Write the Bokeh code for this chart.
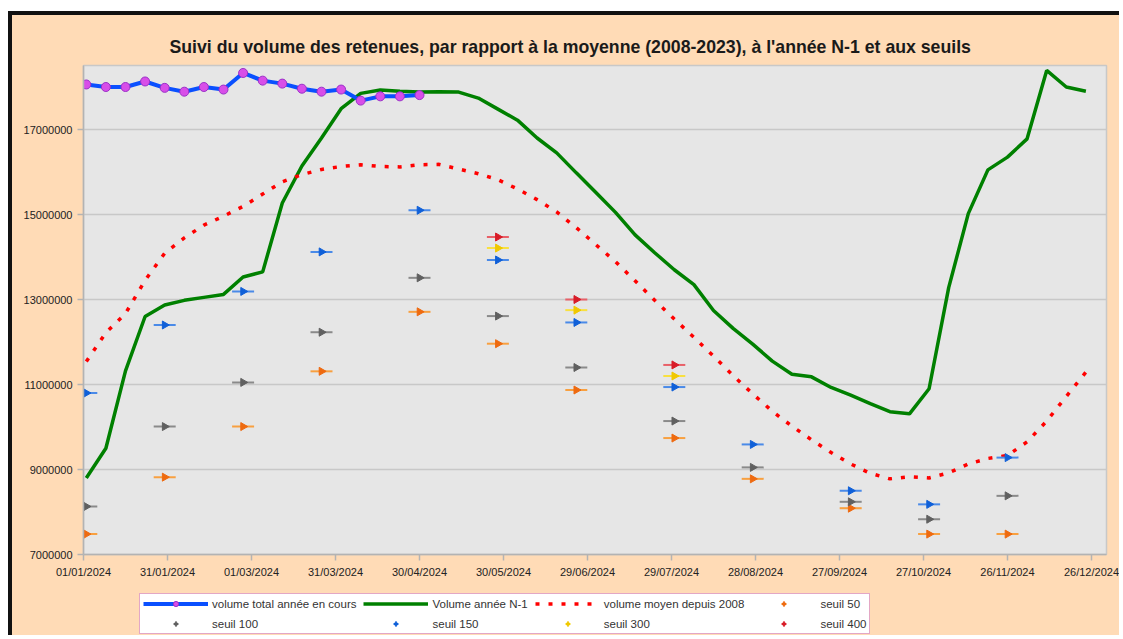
import numpy as np
import pandas as pd
from bokeh.plotting import figure
from bokeh.layouts import column
from bokeh.models import (Range1d, FixedTicker, DatetimeTickFormatter,
                          NumeralTickFormatter, Legend, LegendItem)
from bokeh.embed import file_html
from bokeh.resources import INLINE

# ---------------- data (values in millions of m3) ----------------
week_dates = pd.date_range("2024-01-02", periods=52, freq="7D")
current_dates = week_dates[:18]

current_year = [18.06, 18.00, 18.00, 18.13, 17.98, 17.89, 18.00, 17.94, 18.33,
                18.15, 18.08, 17.96, 17.89, 17.94, 17.68, 17.78, 17.78, 17.81]

previous_year = [8.80, 9.50, 11.32, 12.60, 12.87, 12.98, 13.05, 13.12, 13.53, 13.65,
                 15.27, 16.14, 16.80, 17.49, 17.85, 17.93, 17.90, 17.88, 17.89, 17.88,
                 17.74, 17.48, 17.22, 16.80, 16.45, 15.98, 15.52, 15.05, 14.52, 14.10,
                 13.70, 13.35, 12.74, 12.32, 11.95, 11.55, 11.24, 11.18, 10.93, 10.75,
                 10.55, 10.36, 10.31, 10.90, 13.28, 15.02, 16.05, 16.35, 16.78, 18.39,
                 18.00, 17.90]

mean_since_2008 = [11.54, 12.22, 12.67, 13.45, 14.09, 14.45, 14.75, 14.96, 15.19, 15.48,
                   15.77, 15.94, 16.06, 16.13, 16.17, 16.13, 16.12, 16.17, 16.18, 16.07,
                   15.96, 15.82, 15.60, 15.35, 15.06, 14.69, 14.29, 13.89, 13.44, 12.98,
                   12.54, 12.11, 11.67, 11.21, 10.78, 10.37, 10.02, 9.70, 9.40, 9.13,
                   8.91, 8.78, 8.83, 8.80, 8.92, 9.13, 9.26, 9.33, 9.65, 10.14,
                   10.72, 11.29]

seuil_dates = pd.to_datetime(["2024-01-02", "2024-01-30", "2024-02-27", "2024-03-26",
                              "2024-04-30", "2024-05-28", "2024-06-25", "2024-07-30",
                              "2024-08-27", "2024-10-01", "2024-10-29", "2024-11-26"])
nan = float("nan")
seuil_50 = [7.48, 8.82, 10.01, 11.31, 12.71, 11.96, 10.87, 9.74, 8.78, 8.09, 7.48, 7.48]
seuil_100 = [8.13, 10.01, 11.05, 12.23, 13.51, 12.61, 11.40, 10.14, 9.05, 8.24, 7.83, 8.38]
seuil_150 = [10.80, 12.40, 13.19, 14.12, 15.10, 13.93, 12.46, 10.94, 9.59, 8.50, 8.18, 9.28]
seuil_300 = [nan, nan, nan, nan, nan, 14.21, 12.75, 11.20, nan, nan, nan, nan]
seuil_400 = [nan, nan, nan, nan, nan, 14.47, 13.00, 11.46, nan, nan, nan, nan]

x_tick_dates = ["2024-01-01", "2024-01-31", "2024-03-01", "2024-03-31", "2024-04-30",
                "2024-05-30", "2024-06-29", "2024-07-29", "2024-08-28", "2024-09-27",
                "2024-10-27", "2024-11-26", "2024-12-26"]
y_ticks = [7000000, 9000000, 11000000, 13000000, 15000000, 17000000]

title_text = ("Suivi du volume des retenues, par rapport à la moyenne (2008-2023), "
              "à l'année N-1 et aux seuils")

M = 1_000_000


def scale(vals):
    return [v * M for v in vals]


def ms(d):
    return pd.Timestamp(d).timestamp() * 1000.0


DAY = 86400000.0
FONT = "Liberation Sans"
PEACH = "#ffdbb6"

x_start = ms("2024-01-01")
p = figure(width=1111, height=577, x_axis_type="datetime",
           output_backend="svg", toolbar_location=None,
           x_range=Range1d(x_start, x_start + 365.36 * DAY),
           y_range=Range1d(7000000, 18506000),
           min_border_left=71, min_border_right=17,
           min_border_top=50, min_border_bottom=38,
           background_fill_color="#e6e6e6", border_fill_color=PEACH)
p.styles = {"border-left": "4px solid #111111", "border-top": "4px solid #111111",
            "background-color": PEACH}

p.title.text = title_text
p.title.text_font = FONT
p.title.text_font_size = "17.7px"
p.title.text_font_style = "bold"
p.title.text_color = "#1a1a1a"
p.title.align = "left"
p.title.offset = 86
p.title.standoff = 17

p.outline_line_color = "#c8c8c8"
p.outline_line_width = 1.5
p.xgrid.visible = False
p.ygrid.ticker = FixedTicker(ticks=y_ticks)
p.ygrid.grid_line_color = "#c8c8c8"
p.ygrid.grid_line_width = 1.5

p.yaxis.ticker = FixedTicker(ticks=y_ticks)
p.yaxis.formatter = NumeralTickFormatter(format="0")
p.xaxis.ticker = FixedTicker(ticks=[ms(d) for d in x_tick_dates])
fmt = "%d/%m/%Y"
p.xaxis.formatter = DatetimeTickFormatter(milliseconds=fmt, seconds=fmt, minsec=fmt,
                                          minutes=fmt, hourmin=fmt, hours=fmt, days=fmt,
                                          months=fmt, years=fmt)
for ax in (p.xaxis[0], p.yaxis[0]):
    ax.axis_line_color = "#b3b3b3"
    ax.axis_line_width = 1.5
    ax.major_tick_line_color = "#b3b3b3"
    ax.major_tick_line_width = 1.5
    ax.major_tick_in = 0
    ax.major_tick_out = 6
    ax.minor_tick_line_color = None
    ax.major_label_text_font = FONT
    ax.major_label_text_font_size = "11px"
    ax.major_label_text_color = "#222222"
    ax.major_label_standoff = 5

seuil_specs = [
    ("seuil 50", seuil_50, "#ee6a10", "#f8a040"),
    ("seuil 100", seuil_100, "#606060", "#8a8a8a"),
    ("seuil 150", seuil_150, "#1060d8", "#4a8ae8"),
    ("seuil 300", seuil_300, "#f0c800", "#f8e040"),
    ("seuil 400", seuil_400, "#d81c28", "#e86068"),
]


def draw_series(fig, head_marker, head_angle):
    """Draw every series on fig; returns the legend items."""
    r_prev = fig.line(week_dates, scale(previous_year), line_color="#008000",
                      line_width=3.5)
    r_mean = fig.line(week_dates, scale(mean_since_2008), line_color="#ff0000",
                      line_width=3.5, line_dash="4 9")
    s_items = []
    for label, vals, col, shaft in seuil_specs:
        r_shaft = fig.scatter(seuil_dates, scale(vals), marker="dash", size=22,
                              line_color=shaft, line_width=2)
        r_head = fig.scatter(seuil_dates, scale(vals), marker=head_marker,
                             angle=head_angle, size=8, fill_color=col, line_color=col,
                             line_width=1)
        s_items.append(LegendItem(label=label, renderers=[r_shaft, r_head]))
    r_cur = fig.line(current_dates, scale(current_year), line_color="#0a50ff",
                     line_width=4)
    r_cur_pts = fig.scatter(current_dates, scale(current_year), marker="circle", size=9,
                            fill_color="#d84ee8", line_color="#9a30c8", line_width=1)
    return [
        LegendItem(label="volume total année en cours", renderers=[r_cur, r_cur_pts]),
        LegendItem(label="Volume année N-1", renderers=[r_prev]),
        LegendItem(label="volume moyen depuis 2008", renderers=[r_mean]),
    ] + s_items


draw_series(p, "triangle", -np.pi / 2)

# legend strip under the chart (its own copies of the series lie outside its ranges)
lf = figure(width=1111, height=47, output_backend="svg", toolbar_location=None,
            x_axis_location=None, y_axis_location=None,
            x_range=Range1d(0, 1), y_range=Range1d(0, 1),
            min_border_left=71, min_border_right=17,
            min_border_top=1, min_border_bottom=1,
            background_fill_color=PEACH, border_fill_color=PEACH)
lf.outline_line_color = None
lf.styles = {"border-left": "4px solid #111111", "background-color": PEACH}
lf.grid.visible = False
items = draw_series(lf, "diamond", 0)

legend = Legend(items=items, orientation="horizontal", ncols=4,
                location=(56, 0), glyph_width=65, glyph_height=13,
                label_height=13, label_standoff=4, spacing=7, padding=3, margin=0,
                border_line_color="#c8508c", border_line_width=1.5,
                background_fill_color="white", background_fill_alpha=1.0,
                label_text_font=FONT, label_text_font_size="11.5px",
                label_text_color="#333333")
lf.add_layout(legend)

layout = column(p, lf, spacing=0, margin=(11, 0, 0, 8))
layout.styles = {"background-color": PEACH}

open("out.html", "w").write(file_html(layout, INLINE))
